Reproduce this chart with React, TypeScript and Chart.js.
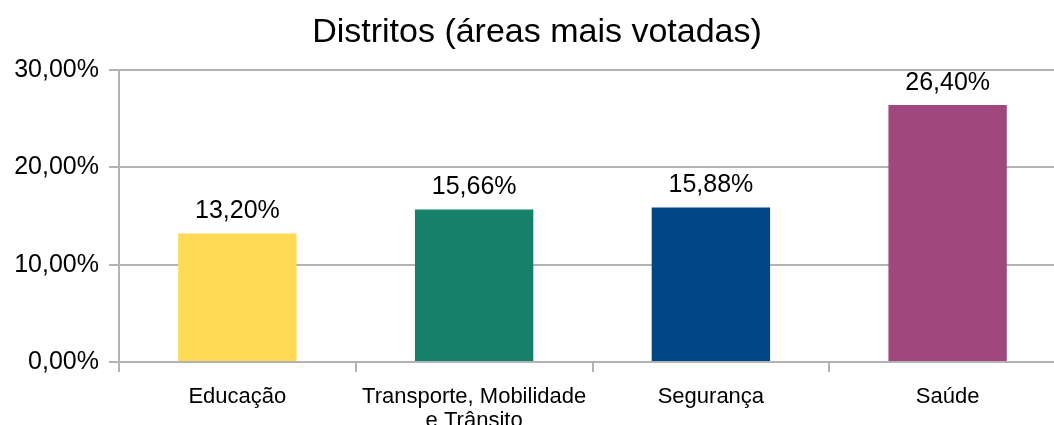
import React, { useEffect, useRef } from "react";
import { Chart, registerables } from "chart.js";

Chart.register(...registerables);

const titleText = "Distritos (áreas mais votadas)";
const categories: (string | string[])[] = [
  "Educação",
  ["Transporte, Mobilidade", "e Trânsito"],
  "Segurança",
  "Saúde",
];
const values = [13.2, 15.66, 15.88, 26.4];
const barColors = ["#FFDA55", "#17806A", "#004586", "#A14780"];
const yTicks = [0, 10, 20, 30];

const FONT = "'Liberation Sans', Arial, sans-serif";
const fmt = (v: number) => v.toFixed(2).replace(".", ",") + "%";

const labelPlugin = {
  id: "customLabels",
  afterDraw(chart: any) {
    const ctx = chart.ctx;
    ctx.save();
    ctx.fillStyle = "#000";
    ctx.font = `25px ${FONT}`;
    ctx.textAlign = "center";
    ctx.textBaseline = "middle";
    const meta = chart.getDatasetMeta(0);
    meta.data.forEach((bar: any, i: number) => {
      ctx.fillText(fmt(values[i]), bar.x, bar.y - 22);
    });
    ctx.font = `34px ${FONT}`;
    ctx.fillText(titleText, 537, 33);
    ctx.restore();
  },
};

export default function App() {
  const ref = useRef<HTMLCanvasElement | null>(null);
  useEffect(() => {
    if (!ref.current) return;
    const chart = new Chart(ref.current, {
      type: "bar",
      data: {
        labels: categories,
        datasets: [
          {
            data: values,
            backgroundColor: barColors,
            barPercentage: 0.5,
            categoryPercentage: 1,
          },
        ],
      },
      options: {
        animation: false,
        responsive: false,
        maintainAspectRatio: false,
        layout: { padding: { top: 70, left: 0, right: 0, bottom: 0 } },
        plugins: {
          legend: { display: false },
          title: { display: false },
          tooltip: { enabled: false },
        },
        scales: {
          x: {
            afterFit: (s: any) => {
              s.height = 63;
            },
            grid: {
              drawOnChartArea: false,
              drawTicks: true,
              tickLength: 10,
              color: "#b3b3b3",
              lineWidth: 2,
              offset: true,
            },
            border: { color: "#b3b3b3", width: 2 },
            ticks: {
              color: "#000",
              font: { family: FONT, size: 22, lineHeight: 1.1 },
              padding: 13,
              maxRotation: 0,
              autoSkip: false,
            },
          },
          y: {
            min: 0,
            max: 30,
            afterFit: (s: any) => {
              s.width = 119;
            },
            afterBuildTicks: (s: any) => {
              s.ticks = yTicks.map((v) => ({ value: v }));
            },
            grid: {
              color: "#b3b3b3",
              lineWidth: 2,
              tickLength: 10,
            },
            border: { color: "#b3b3b3", width: 2 },
            ticks: {
              color: "#000",
              font: { family: FONT, size: 25 },
              padding: 10,
              callback: (v: any) => fmt(Number(v)),
            },
          },
        },
      },
      plugins: [labelPlugin],
    });
    return () => chart.destroy();
  }, []);
  return (
    <div style={{ position: "fixed", left: 0, top: 0, width: 1066, height: 425, background: "#fff" }}>
      <canvas ref={ref} width={1066} height={425} style={{ width: 1066, height: 425 }} />
    </div>
  );
}
